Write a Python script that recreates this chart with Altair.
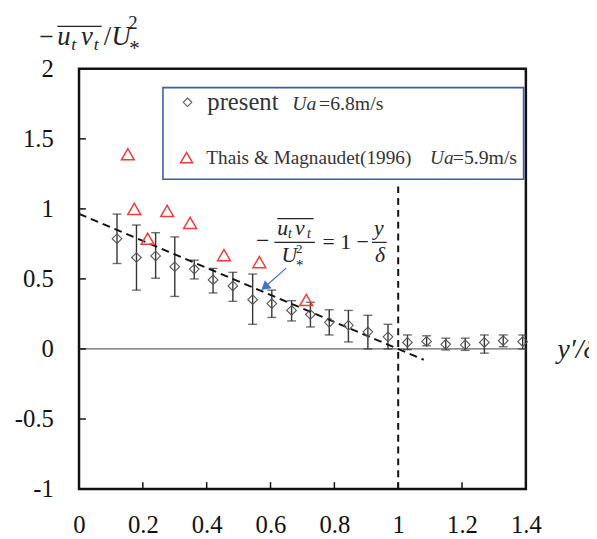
import altair as alt
import pandas as pd

# ---------------- data ----------------
present_x = [0.119, 0.18, 0.24, 0.30, 0.361, 0.42, 0.482, 0.544, 0.604, 0.666, 0.725,
             0.784, 0.844, 0.905, 0.968, 1.029, 1.089, 1.149, 1.21, 1.27, 1.329, 1.39]
present_y = [0.787, 0.653, 0.664, 0.587, 0.57, 0.493, 0.45, 0.352, 0.324, 0.275, 0.246,
             0.19, 0.169, 0.122, 0.087, 0.047, 0.054, 0.033, 0.03, 0.047, 0.059, 0.052]
present_hi = [0.963, 0.885, 0.83, 0.80, 0.634, 0.575, 0.547, 0.535, 0.42, 0.345, 0.333,
              0.28, 0.275, 0.24, 0.176, 0.10, 0.094, 0.077, 0.077, 0.10, 0.10, 0.10]
present_lo = [0.61, 0.42, 0.505, 0.375, 0.50, 0.40, 0.34, 0.176, 0.225, 0.20, 0.157,
              0.10, 0.05, 0.0, 0.0, -0.005, 0.023, -0.007, -0.01, -0.03, 0.016, 0.0]

thais_x = [0.153, 0.173, 0.215, 0.276, 0.348, 0.454, 0.565, 0.712]
thais_y = [1.39, 1.0, 0.787, 0.986, 0.9, 0.67, 0.62, 0.35]

fit_x = [0.0, 1.08]
fit_y = [0.965, -0.077]

vline_x = [1.0, 1.0]
vline_y = [-1.0, 1.16]

zero_x = [0.0, 1.4]
zero_y = [0.0, 0.0]

x_ticks = [0, 0.2, 0.4, 0.6, 0.8, 1, 1.2, 1.4]
y_ticks = [-1, -0.5, 0, 0.5, 1, 1.5, 2]
x_inner_ticks = [0.2, 0.4, 0.6, 0.8, 1.0, 1.2]
y_inner_ticks = [-0.5, 0, 0.5, 1, 1.5]

SERIF = "Liberation Serif"

xs = alt.Scale(domain=[0, 1.4], nice=False, zero=False)
ys = alt.Scale(domain=[-1, 2], nice=False, zero=False)
x_axis = alt.Axis(values=x_ticks, labelExpr="toString(datum.value)", title=None,
                  ticks=False, domain=False, grid=False, labelFont=SERIF,
                  labelFontSize=25, labelColor="#111", labelPadding=24,
                  labelFlush=False)
y_axis = alt.Axis(values=y_ticks, labelExpr="toString(datum.value)", title=None,
                  ticks=False, domain=False, grid=False, labelFont=SERIF,
                  labelFontSize=25, labelColor="#111", labelPadding=26,
                  labelFlush=False)


def X(f):
    return alt.X(f, type="quantitative", scale=xs, axis=x_axis)


def Y(f):
    return alt.Y(f, type="quantitative", scale=ys, axis=y_axis)


pres = pd.DataFrame({"x": present_x, "y": present_y, "lo": present_lo, "hi": present_hi})
thais = pd.DataFrame({"x": thais_x, "y": thais_y})

layers = []

# zero line
layers.append(alt.Chart(pd.DataFrame({"x": zero_x, "y": zero_y})).mark_line(
    color="#666", strokeWidth=1.3).encode(x=X("x"), y=Y("y")))

# error bars
layers.append(alt.Chart(pres).mark_rule(color="#333", strokeWidth=1.4).encode(
    x=X("x"), y=Y("lo"), y2="hi"))
layers.append(alt.Chart(pres).mark_tick(color="#333", thickness=1.4, size=9,
                                        orient="horizontal").encode(x=X("x"), y=Y("lo")))
layers.append(alt.Chart(pres).mark_tick(color="#333", thickness=1.4, size=9,
                                        orient="horizontal").encode(x=X("x"), y=Y("hi")))

# fit line
layers.append(alt.Chart(pd.DataFrame({"x": fit_x, "y": fit_y})).mark_line(
    color="#111", strokeWidth=2, strokeDash=[8, 5]).encode(x=X("x"), y=Y("y")))

# vertical dashed line
layers.append(alt.Chart(pd.DataFrame({"x": vline_x, "y": vline_y})).mark_line(
    color="#111", strokeWidth=2, strokeDash=[7, 5]).encode(x=X("x"), y=Y("y")))

# diamonds
layers.append(alt.Chart(pres).mark_point(shape="diamond", filled=False, size=95,
                                         color="#555", strokeWidth=1.1, opacity=1).encode(
    x=X("x"), y=Y("y")))

# triangles
layers.append(alt.Chart(thais).mark_point(shape="triangle-up", filled=False, size=170,
                                          color="#f03c3c", strokeWidth=1.5, opacity=1).encode(
    x=X("x"), y=Y("y")))

# inner ticks
layers.append(alt.Chart(pd.DataFrame({"x": x_inner_ticks})).mark_rule(
    color="#111", strokeWidth=1.5).encode(x=X("x"), y=alt.value(426), y2=alt.value(419)))
layers.append(alt.Chart(pd.DataFrame({"y": y_inner_ticks})).mark_rule(
    color="#111", strokeWidth=1.5).encode(y=Y("y"), x=alt.value(0), x2=alt.value(7)))

# ---------- legend (manual box) ----------
leg_box = pd.DataFrame({"x": [0.263], "x2": [1.393], "y": [1.211], "y2": [1.866]})
layers.append(alt.Chart(leg_box).mark_rect(fillOpacity=0, stroke="#3a5ca8",
                                           strokeWidth=1.6).encode(
    x=X("x"), x2="x2", y=Y("y"), y2="y2"))
layers.append(alt.Chart(pd.DataFrame({"x": [0.340], "y": [1.761]})).mark_point(
    shape="diamond", filled=False, size=75, color="#555", strokeWidth=1.1, opacity=1).encode(
    x=X("x"), y=Y("y")))
layers.append(alt.Chart(pd.DataFrame({"x": [0.337], "y": [1.366]})).mark_point(
    shape="triangle-up", filled=False, size=150, color="#f03c3c", strokeWidth=1.5,
    opacity=1).encode(x=X("x"), y=Y("y")))

leg_text = pd.DataFrame({
    "x": [0.402, 0.668, 0.752, 0.399, 1.100, 1.171],
    "y": [1.704, 1.704, 1.704, 1.324, 1.324, 1.324],
    "t": ["present", "Ua", "=6.8m/s", "Thais & Magnaudet(1996)", "Ua", "=5.9m/s"],
    "sz": [25, 20, 20, 19.5, 19.5, 20],
    "st": ["normal", "italic", "normal", "normal", "italic", "normal"],
})
for st in ["normal", "italic"]:
    for sz in sorted(set(leg_text["sz"])):
        sub = leg_text[(leg_text["st"] == st) & (leg_text["sz"] == sz)]
        if len(sub) == 0:
            continue
        layers.append(alt.Chart(sub).mark_text(
            font=SERIF, fontSize=sz, fontStyle=st, align="left", baseline="alphabetic",
            color="#333").encode(x=X("x"), y=Y("y"), text="t:N"))

# ---------- formula annotation ----------
form = pd.DataFrame({
    "x": [0.575, 0.621, 0.655, 0.677, 0.714, 0.634, 0.680, 0.680, 0.763, 0.939, 0.943],
    "y": [0.722, 0.817, 0.789, 0.817, 0.789, 0.620, 0.683, 0.565, 0.711, 0.817, 0.620],
    "t": ["−", "u", "t", "v", "t", "U", "2", "*", "= 1 −", "y", "δ"],
    "sz": [24, 22, 14, 22, 14, 22, 13, 15, 22, 22, 22],
    "st": ["normal", "italic", "italic", "italic", "italic", "italic", "normal", "normal",
           "normal", "italic", "italic"],
    "al": ["center", "left", "left", "left", "left", "left", "left", "left", "left",
           "center", "center"],
})
for st in ["normal", "italic"]:
    for sz in sorted(set(form["sz"])):
        for al in ["left", "center"]:
            sub = form[(form["st"] == st) & (form["sz"] == sz) & (form["al"] == al)]
            if len(sub) == 0:
                continue
            layers.append(alt.Chart(sub).mark_text(
                font=SERIF, fontSize=sz, fontStyle=st, align=al, baseline="alphabetic",
                color="#222").encode(x=X("x"), y=Y("y"), text="t:N"))

bars = pd.DataFrame({"x": [0.621, 0.612, 0.918], "x2": [0.735, 0.739, 0.964],
                     "y": [0.930, 0.761, 0.761]})
layers.append(alt.Chart(bars).mark_rule(color="#222", strokeWidth=1.2).encode(
    x=X("x"), x2="x2", y=Y("y")))

# arrow
arrow = pd.DataFrame({"x": [0.649], "x2": [0.584], "y": [0.577], "y2": [0.446]})
layers.append(alt.Chart(arrow).mark_rule(color="#4472c4", strokeWidth=1.2).encode(
    x=X("x"), x2="x2", y=Y("y"), y2="y2"))
layers.append(alt.Chart(pd.DataFrame({"x": [0.582], "y": [0.441]})).mark_point(
    shape="triangle-up", filled=True, size=110, color="#4472c4", angle=230,
    opacity=1).encode(x=X("x"), y=Y("y")))

# ---------- axis titles (pixel positions relative to plot area) ----------
ytitle = [
    ("−", -33, -24, 26, "normal", "center"),
    ("u", -22, -24, 27, "italic", "left"),
    ("t", -8, -19, 18, "italic", "left"),
    ("v", 2, -24, 27, "italic", "left"),
    ("t", 15, -19, 18, "italic", "left"),
    ("/", 25, -24, 27, "normal", "left"),
    ("U", 33, -24, 27, "italic", "left"),
    ("2", 50, -40, 19, "normal", "left"),
    ("*", 51, -14, 21, "normal", "left"),
]
for t, px, py, sz, st, al in ytitle:
    layers.append(alt.Chart(pd.DataFrame({"t": [t]})).mark_text(
        font=SERIF, fontSize=sz, fontStyle=st, align=al, baseline="alphabetic",
        color="#222").encode(x=alt.value(px), y=alt.value(py), text="t:N"))
layers.append(alt.Chart(pd.DataFrame({"a": [0]})).mark_rule(
    color="#222", strokeWidth=1.3).encode(x=alt.value(-22), x2=alt.value(23), y=alt.value(-43)))

layers.append(alt.Chart(pd.DataFrame({"t": ["y′/δ"]})).mark_text(
    font=SERIF, fontSize=28, fontStyle="italic", align="left", baseline="alphabetic",
    color="#222").encode(x=alt.value(485), y=alt.value(293), text="t:N"))

chart = alt.layer(*layers).properties(
    width=453, height=426,
    autosize=alt.AutoSizeParams(type="none"),
    padding={"left": 72, "top": 58, "right": 64, "bottom": 47},
    background="white",
).configure_view(stroke="#111", strokeWidth=2.5)

chart.save("out.html", embed_options={"renderer": "svg", "actions": False})
